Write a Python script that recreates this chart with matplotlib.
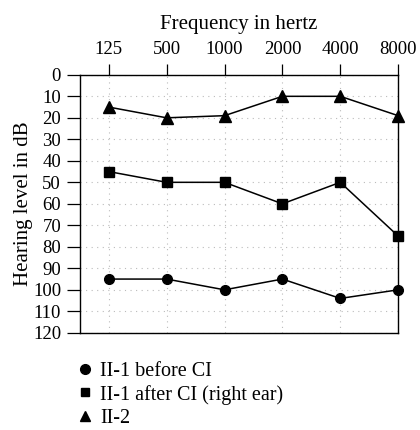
import numpy as np
import matplotlib.pyplot as plt
from matplotlib.lines import Line2D

plt.rcParams['font.family'] = ['Liberation Serif', 'DejaVu Serif']

freqs = ['125', '500', '1000', '2000', '4000', '8000']
before_ci = [95, 95, 100, 95, 104, 100]
after_ci = [45, 50, 50, 60, 50, 75]
ii2 = [15, 20, 19, 10, 10, 19]
db_ticks = list(range(0, 121, 10))

fig = plt.figure(figsize=(4.2, 4.3), dpi=100)
ax = fig.add_axes([0.19, 0.226, 0.758, 0.6])

x = np.arange(len(freqs))
ax.plot(x, before_ci, color='black', lw=1.1, marker='o', ms=7, clip_on=False, zorder=3)
ax.plot(x, after_ci, color='black', lw=1.1, marker='s', ms=6.5, clip_on=False, zorder=3)
ax.plot(x, ii2, color='black', lw=1.1, marker='^', ms=8, clip_on=False, zorder=3)

ax.set_xlim(-0.5, len(freqs) - 1)
ax.set_ylim(120, 0)
ax.set_yticks(db_ticks)
ax.set_xticks(x)
ax.set_xticklabels(freqs)
ax.xaxis.tick_top()
ax.xaxis.set_label_position('top')
ax.set_xlabel('Frequency in hertz', fontsize=15, labelpad=9)
ax.set_ylabel('Hearing level in dB', fontsize=15, labelpad=0)
ax.tick_params(axis='x', labelsize=13.5, direction='out', length=8, width=0.9, pad=4)
ax.tick_params(axis='y', labelsize=13.5, direction='out', length=9.5, width=0.9, pad=4)
ax.grid(True, color='#bbbbbb', linestyle=(0, (1, 4)), lw=0.8)
for s in ax.spines.values():
    s.set_linewidth(1.0)

handles = [
    Line2D([], [], color='black', marker='o', ls='none', ms=7),
    Line2D([], [], color='black', marker='s', ls='none', ms=6),
    Line2D([], [], color='black', marker='^', ls='none', ms=7),
]
labels = ['II-1 before CI', 'II-1 after CI (right ear)', 'II-2']
fig.legend(handles, labels, loc='upper left', bbox_to_anchor=(0.16, 0.178),
           frameon=False, fontsize=14.5, handletextpad=0.25, labelspacing=0.2,
           handlelength=1.0, borderaxespad=0)

fig.savefig('out.png', dpi=100)
